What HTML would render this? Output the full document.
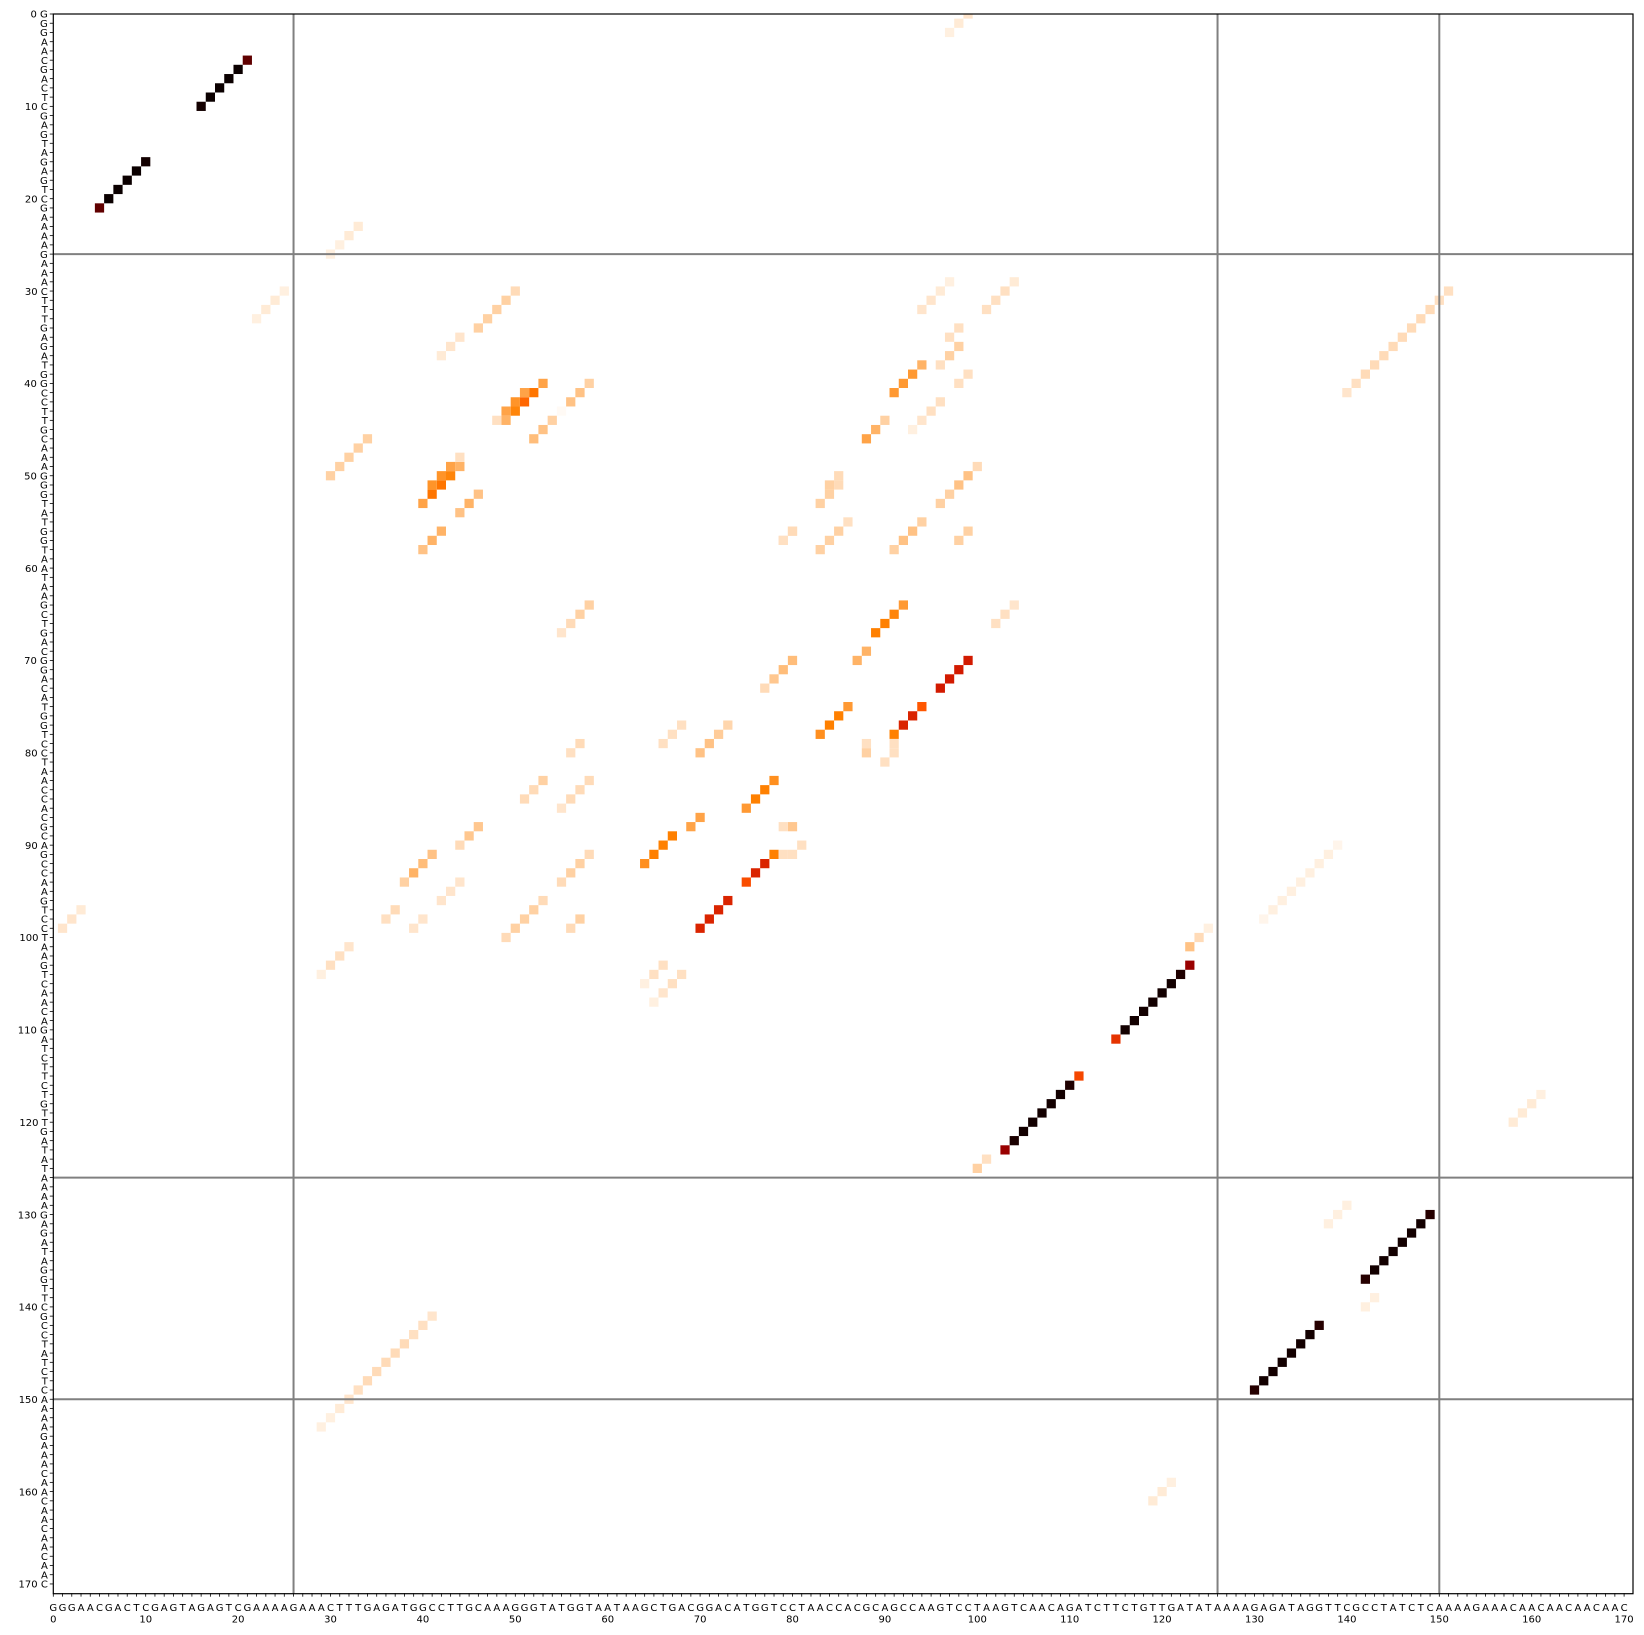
<!DOCTYPE html>
<html><head><meta charset="utf-8"><style>
html,body{margin:0;padding:0;background:#fff;}
svg{display:block;font-family:"DejaVu Sans","Liberation Sans",sans-serif;}
</style></head><body>
<svg id="chart" width="1644" height="1635" viewBox="0 0 1644 1635" xmlns="http://www.w3.org/2000/svg">
<g id="cells"></g>
<g id="grid"></g>
<rect x="53.3" y="14" width="1579.7" height="1579.7" fill="none" stroke="#000" stroke-width="1.2"/>
<g id="yaxis"></g>
<g id="xaxis"></g>
</svg>
<script>
const sequence = "GGGAACGACTCGAGTAGAGTCGAAAAGAAACTTTGAGATGGCCTTGCAAAGGGTATGGTAATAAGCTGACGGACATGGTCCTAACCACGCAGCCAAGTCCTAAGTCAACAGATCTTCTGTTGATATAAAAGAGATAGGTTCGCCTATCTCAAAAGAAACAACAACAACAAC";
const tickNumbers = [0,10,20,30,40,50,60,70,80,90,100,110,120,130,140,150,160,170];
const domainBounds = [26,126,150];
// each stem: start row, start col, then probabilities along (row+1, col-1)
const stemRow = [5,16,103,115,130,142,70,75,91,96,64,69,70,75,77,83,87,89,40,41,40,30,49,48,52,56,46,56,64,38,44,29,29,34,36,39,42,49,50,51,55,55,56,56,64,88,91,91,96,98,97,98,94,101,103,104,83,83,79,77,79,80,79,80,81,88,88,90,91,91,30,141,150,99,124,0,23,97,30,117,159,129,139,35,90];
const stemCol = [21,10,123,111,149,137,99,94,78,73,92,88,80,86,73,78,70,67,53,51,58,50,44,44,46,42,34,80,58,94,90,97,104,98,98,99,96,100,85,85,86,94,80,99,104,46,41,58,53,57,37,40,44,32,66,68,53,58,57,68,88,88,91,91,90,80,79,81,79,80,151,41,32,125,101,99,33,3,25,161,121,140,143,44,139];
const stemProbs = [
 [0.75,0.97,0.97,0.97,0.97,0.95],[0.95,0.97,0.97,0.97,0.97,0.75],
 [0.6,0.92,0.95,0.95,0.95,0.95,0.95,0.95,0.4],[0.36,0.92,0.95,0.95,0.95,0.95,0.95,0.93,0.6],
 [0.9,0.95,0.95,0.95,0.95,0.95,0.95,0.9],[0.9,0.95,0.95,0.95,0.95,0.95,0.95,0.9],
 [0.45,0.45,0.45,0.45],[0.33,0.43,0.43,0.25],[0.25,0.43,0.43,0.35],[0.43,0.43,0.43,0.43],
 [0.2,0.24,0.25,0.25],[0.15,0.15],[0.13,0.13,0.11,0.07],[0.2,0.25,0.25,0.22],[0.08,0.1,0.12,0.12],
 [0.22,0.25,0.25,0.2],[0.18,0.18],[0.25,0.25,0.25,0.22],
 [0.18,0.27,0.3,0.24,0.15],[0.18,0.21,0.18,0.06],[0.09,0.12,0.12,0.01,0.09,0.12,0.13],
 [0.07,0.09,0.09,0.09,0.09],[0.15,0.24,0.27,0.27,0.18],[0.06,0.18,0.21,0.21],
 [0.12,0.15,0.12],[0.15,0.15,0.12],[0.09,0.09,0.09,0.09,0.09],[0.07,0.06],[0.09,0.09,0.07,0.05],
 [0.15,0.2,0.2,0.2],[0.09,0.15,0.18],[0.03,0.04,0.05,0.05],[0.04,0.06,0.06,0.06],[0.06,0.06],[0.09,0.09,0.06],
 [0.06,0.06],[0.06,0.06,0.05,0.03],[0.07,0.12,0.12,0.09,0.09],[0.07,0.09],[0.07,0.09,0.09],
 [0.06,0.09,0.09,0.09],[0.09,0.12,0.12,0.09],[0.07,0.06],[0.09,0.09],[0.05,0.06,0.06],
 [0.11,0.11,0.07],[0.12,0.13,0.15,0.09],[0.07,0.09,0.09,0.07],[0.07,0.09,0.09,0.09,0.07],[0.09,0.07],
 [0.07,0.06],[0.05,0.05],[0.05,0.05,0.05],[0.05,0.06,0.06,0.03],[0.06,0.06,0.03],[0.06,0.06,0.05,0.03],
 [0.09,0.07,0.07],[0.07,0.07,0.07,0.05],[0.07,0.06],[0.06,0.06,0.06],
 [0.06],[0.09],[0.06],[0.06],[0.06],[0.11],[0.06],[0.06],[0.06],[0.06],
 [0.06,0.06,0.07,0.07,0.07,0.07,0.07,0.07,0.07,0.07,0.06,0.05],
 [0.05,0.06,0.06,0.07,0.07,0.07,0.07,0.07,0.06],[0.05,0.04,0.03,0.03],
 [0.03,0.07,0.12],[0.06,0.09],[0.05,0.04,0.03],[0.04,0.04,0.03,0.03],[0.04,0.05,0.05],[0.03,0.04,0.04,0.03],
 [0.03,0.04,0.04,0.04],[0.03,0.04,0.04],[0.03,0.03,0.03],[0.03,0.03],[0.05,0.05,0.04],
 [0.02,0.03,0.03,0.03,0.03,0.03,0.03,0.03,0.02]
];

const NS = "http://www.w3.org/2000/svg";
const X0 = 53.3, Y0 = 14, DX = 9.24, DY = 9.235, N = 171;
function xc(j){ return X0 + DX*j; }
function yc(i){ return Y0 + DY*i; }
function heat(v){
  const x = 1 - v;
  const r = Math.min(1, 1.5*x), g = Math.max(0, Math.min(1, 2*x-1)), b = Math.max(0, Math.min(1, 4*x-3));
  return "rgb(" + Math.round(r*255) + "," + Math.round(g*255) + "," + Math.round(b*255) + ")";
}
const cells = document.getElementById("cells");
for (let s = 0; s < stemRow.length; s++) {
  const p = stemProbs[s];
  for (let k = 0; k < p.length; k++) {
    const i = stemRow[s] + k, j = stemCol[s] - k;
    let x = xc(j) - DX/2, y = yc(i) - DY/2, w = DX, h = DY;
    if (x < X0) { w -= (X0 - x); x = X0; }
    if (y < Y0) { h -= (Y0 - y); y = Y0; }
    const r = document.createElementNS(NS, "rect");
    r.setAttribute("x", x.toFixed(2)); r.setAttribute("y", y.toFixed(2));
    r.setAttribute("width", w.toFixed(2)); r.setAttribute("height", h.toFixed(2));
    r.setAttribute("fill", heat(p[k]));
    
    
    cells.appendChild(r);
  }
}
const grid = document.getElementById("grid");
domainBounds.forEach(b => {
  const v = document.createElementNS(NS, "line");
  v.setAttribute("x1", xc(b)); v.setAttribute("x2", xc(b)); v.setAttribute("y1", Y0); v.setAttribute("y2", Y0 + DY*N);
  v.setAttribute("stroke", "#808080"); v.setAttribute("stroke-width", "2");
  
  
  grid.appendChild(v);
  const h = document.createElementNS(NS, "line");
  h.setAttribute("y1", yc(b)); h.setAttribute("y2", yc(b)); h.setAttribute("x1", X0); h.setAttribute("x2", X0 + DX*N);
  h.setAttribute("stroke", "#808080"); h.setAttribute("stroke-width", "2");
  
  
  grid.appendChild(h);
});
const ya = document.getElementById("yaxis"), xa = document.getElementById("xaxis");
const YB = Y0 + DY*N;
for (let i = 0; i < N; i++) {
  const t = document.createElementNS(NS, "line");
  t.setAttribute("x1", X0 - 3.5); t.setAttribute("x2", X0); t.setAttribute("y1", yc(i)); t.setAttribute("y2", yc(i));
  t.setAttribute("stroke", "#000"); t.setAttribute("stroke-width", "0.8");
  
  
  ya.appendChild(t);
  const lab = document.createElementNS(NS, "text");
  lab.setAttribute("x", X0 - 5.5); lab.setAttribute("y", yc(i) + 3.7);
  lab.setAttribute("text-anchor", "end"); lab.setAttribute("font-size", "10");
  lab.textContent = (tickNumbers.indexOf(i) >= 0 ? i + " " : "") + sequence[i];
  
  
  ya.appendChild(lab);
  const tx = document.createElementNS(NS, "line");
  tx.setAttribute("x1", xc(i)); tx.setAttribute("x2", xc(i)); tx.setAttribute("y1", YB); tx.setAttribute("y2", YB + 3.5);
  tx.setAttribute("stroke", "#000"); tx.setAttribute("stroke-width", "0.8");
  
  
  xa.appendChild(tx);
  const xl = document.createElementNS(NS, "text");
  xl.setAttribute("x", xc(i)); xl.setAttribute("y", YB + 18);
  xl.setAttribute("text-anchor", "middle"); xl.setAttribute("font-size", "10");
  xl.textContent = sequence[i];
  
  
  xa.appendChild(xl);
}
tickNumbers.forEach(n => {
  const t = document.createElementNS(NS, "text");
  t.setAttribute("x", xc(n)); t.setAttribute("y", YB + 29.5);
  t.setAttribute("text-anchor", "middle"); t.setAttribute("font-size", "10");
  t.textContent = n;
  
  
  xa.appendChild(t);
});
</script>
</body></html>
